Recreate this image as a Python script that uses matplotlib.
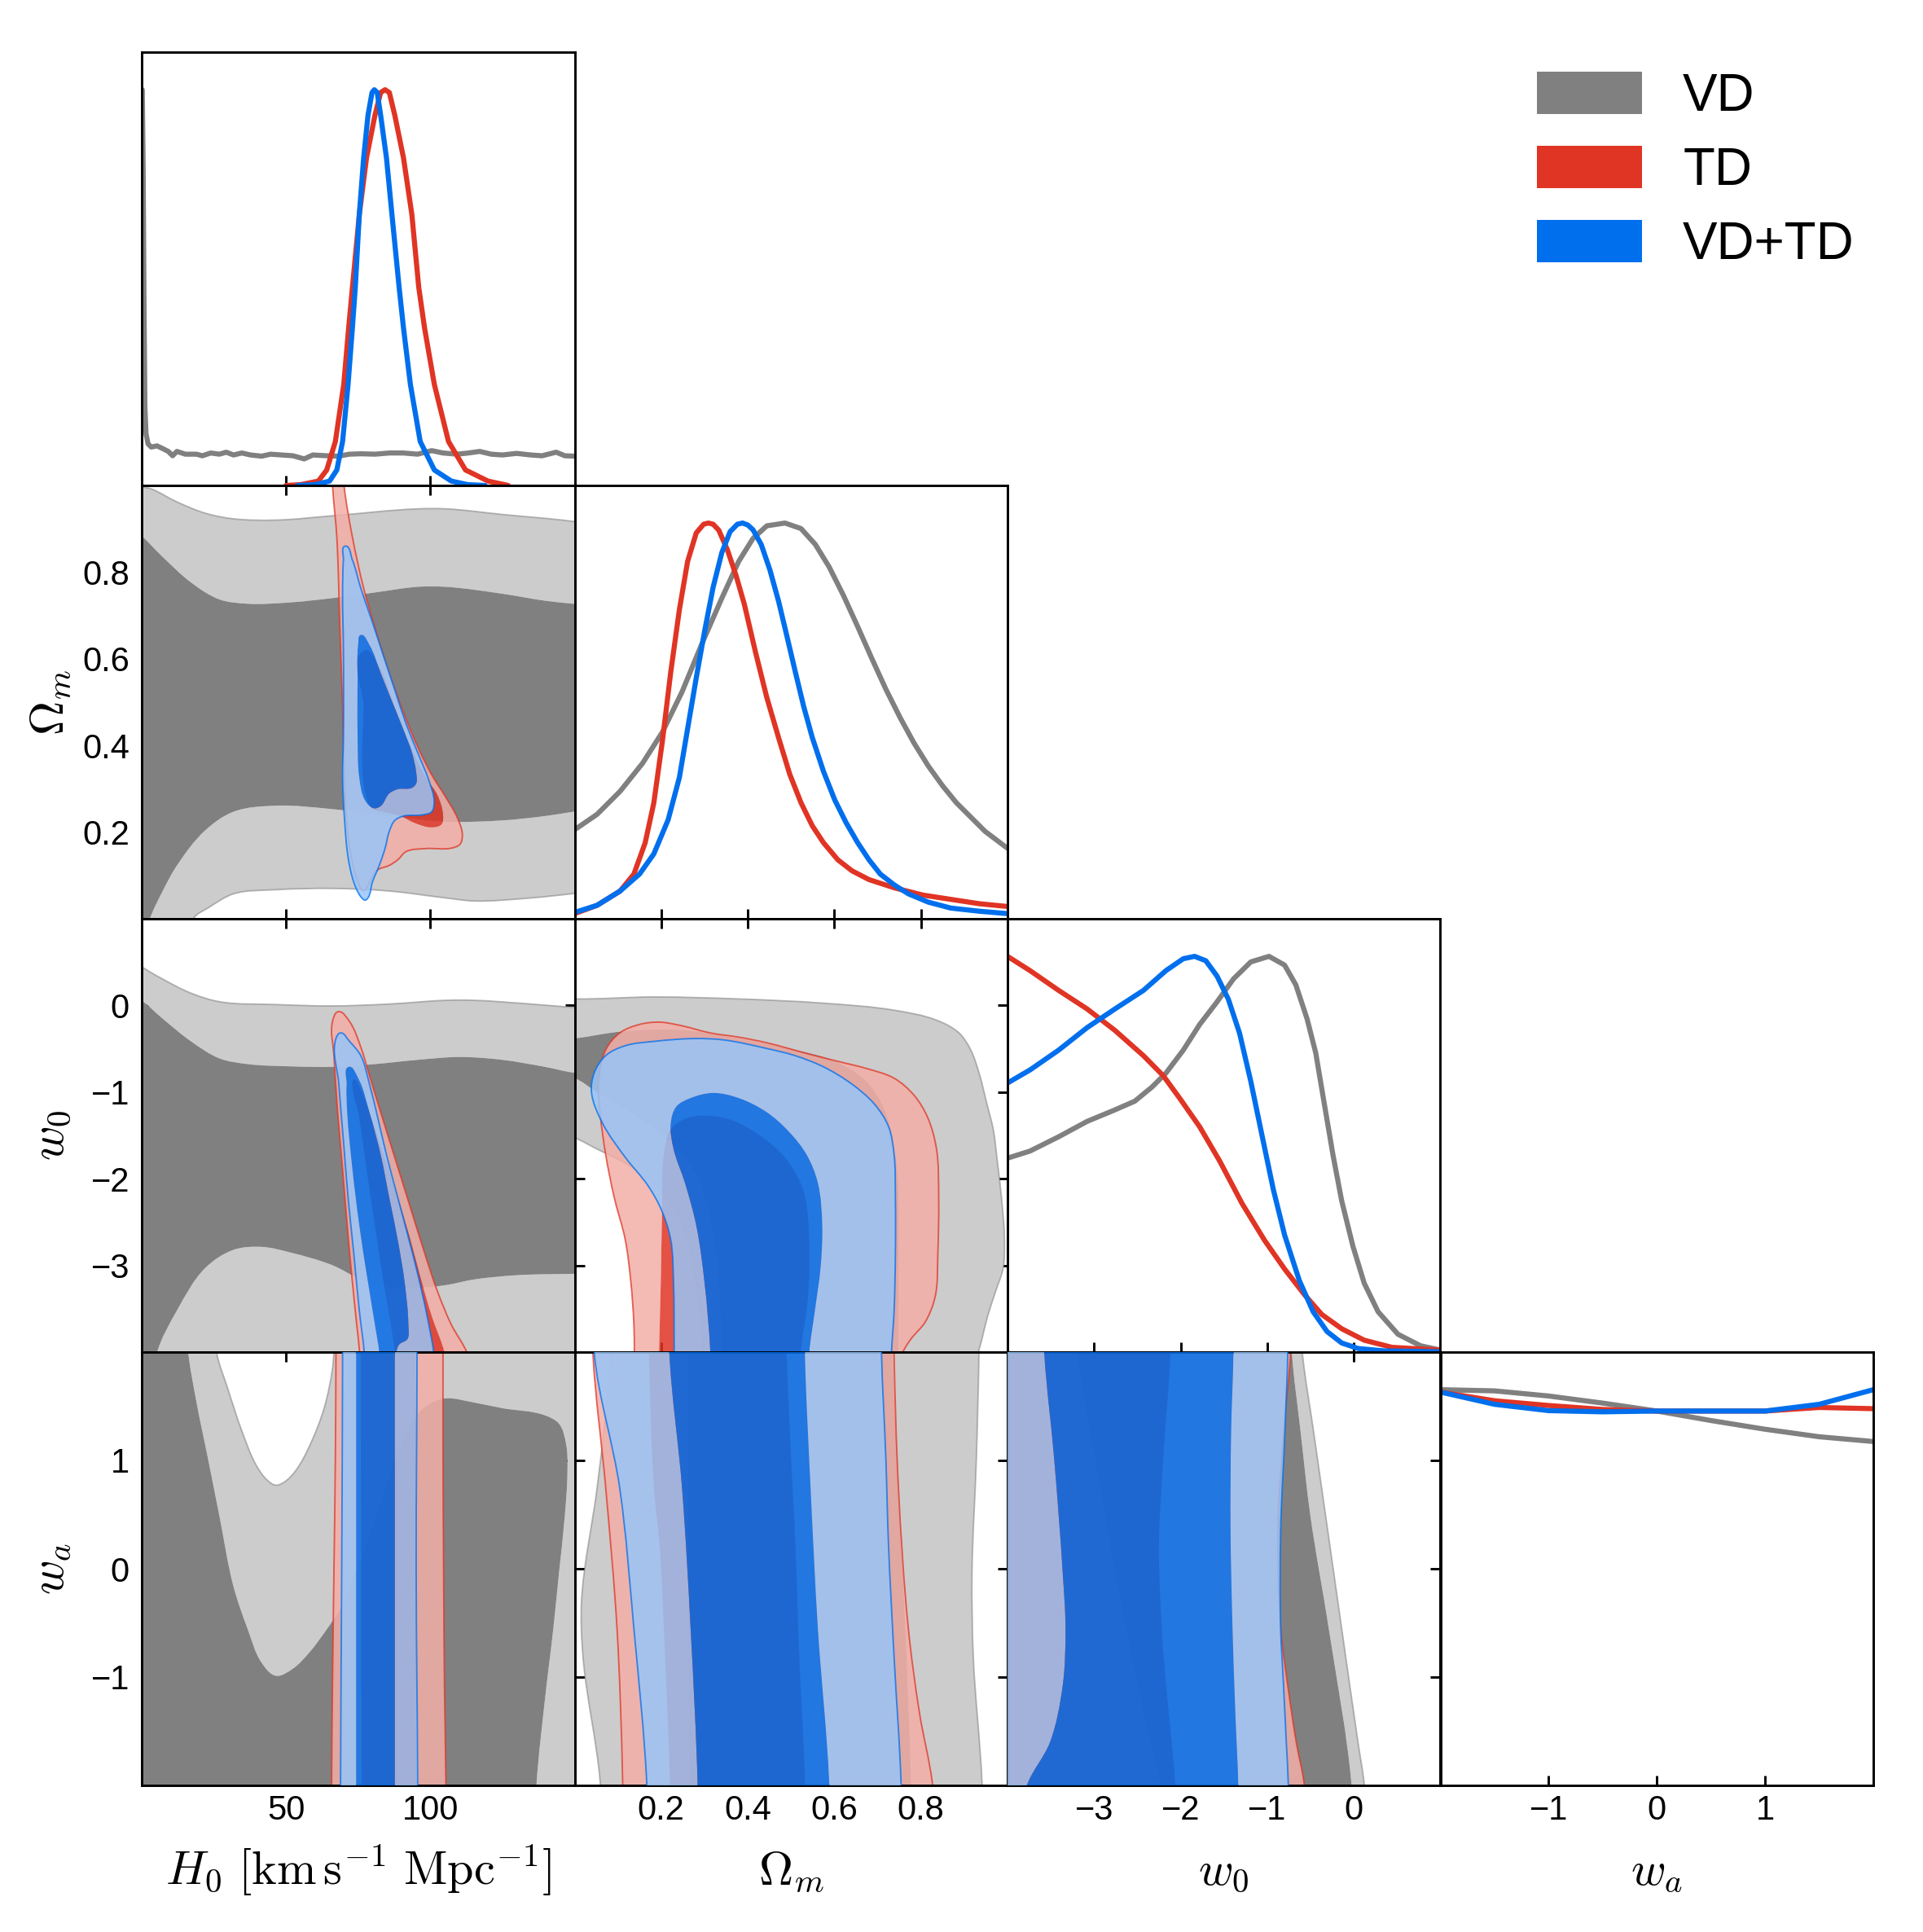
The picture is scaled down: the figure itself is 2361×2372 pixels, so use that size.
import numpy as np
import matplotlib
matplotlib.use("Agg")
import matplotlib.pyplot as plt
from matplotlib.path import Path
from matplotlib.patches import PathPatch, Patch
from matplotlib.colors import to_rgb

plt.rcParams['font.family'] = ['Liberation Sans', 'DejaVu Sans']
plt.rcParams['mathtext.fontset'] = 'cm'

# ------------------------------------------------------------------ data
PARAMS = ['H0', 'Om', 'w0', 'wa']
LIMITS = {'H0': (0, 150), 'Om': (0, 1), 'w0': (-4, 1), 'wa': (-2, 2)}
TICKS = {'H0': [50, 100], 'Om': [0.2, 0.4, 0.6, 0.8],
         'w0': [-3, -2, -1, 0], 'wa': [-1, 0, 1]}
TICK_LABELS = {'H0': ['50', '100'], 'Om': ['0.2', '0.4', '0.6', '0.8'],
               'w0': ['\u22123', '\u22122', '\u22121', '0'],
               'wa': ['\u22121', '0', '1']}
AXIS_LABELS = {'H0': r'$H_0\ [\mathrm{km}\,\mathrm{s}^{-1}\ \mathrm{Mpc}^{-1}]$',
               'Om': r'$\Omega_m$', 'w0': r'$w_0$', 'wa': r'$w_a$'}
SERIES = ['VD', 'TD', 'VD+TD']
COLORS = ['#808080', '#E03424', '#006FED']

# 1D marginals (normalised to peak 1)
H0_VD_X = [0.2, 0.5, 0.8, 1.1, 1.5, 2.2, 3.3, 5.3, 7.3, 9.2, 10.7, 12.2, 15.1, 19.0, 21.0, 23.9,
           26.9, 29.3, 31.8, 34.7, 37.7, 41.6, 44.6, 48.5, 52.4, 56.3, 59.3, 64.2, 68.1, 72.0,
           75.9, 80.9, 85.8, 90.7, 95.6, 100.5, 104.4, 109.3, 113.2, 117.1, 121.1, 125.0,
           129.9, 134.8, 138.7, 143.6, 146.6, 150.0]
H0_VD_Y = [1.00, 0.80, 0.45, 0.20, 0.13, 0.105, 0.097, 0.100, 0.093, 0.086, 0.075, 0.086, 0.079,
           0.079, 0.075, 0.082, 0.079, 0.084, 0.077, 0.082, 0.077, 0.074, 0.079, 0.077, 0.075,
           0.067, 0.077, 0.075, 0.074, 0.079, 0.080, 0.079, 0.082, 0.082, 0.079, 0.088, 0.082,
           0.079, 0.082, 0.086, 0.079, 0.077, 0.081, 0.077, 0.075, 0.084, 0.075, 0.074]
H0_TD_X = [50, 55, 61.2, 64.1, 67.1, 70.0, 71.7, 73.0, 75.4, 77.9, 80.8, 82.8, 84.3, 85.8, 87.7,
           90.7, 93.6, 96.0, 98.0, 101.4, 106.3, 112.2, 120, 127]
H0_TD_Y = [0, 0.002, 0.011, 0.039, 0.111, 0.255, 0.398, 0.5, 0.685, 0.828, 0.935, 0.993, 1.0,
           0.993, 0.935, 0.828, 0.685, 0.5, 0.398, 0.255, 0.111, 0.039, 0.011, 0.0]
H0_BOTH_X = [54, 60, 65.1, 67.6, 69.6, 71.5, 73.0, 74.0, 75.4, 76.9, 78.4, 79.8, 80.6, 81.6, 82.8,
             84.8, 86.7, 89.2, 90.7, 93.1, 96.5, 101.4, 107.3, 113, 119]
H0_BOTH_Y = [0, 0.002, 0.011, 0.039, 0.111, 0.255, 0.398, 0.5, 0.685, 0.828, 0.935, 0.993, 1.0,
             0.993, 0.935, 0.828, 0.685, 0.5, 0.398, 0.255, 0.111, 0.039, 0.011, 0.002, 0]

OM_VD_X = [0.0, 0.052, 0.105, 0.157, 0.203, 0.248, 0.294, 0.340, 0.379, 0.412, 0.444, 0.486,
           0.523, 0.556, 0.588, 0.621, 0.654, 0.686, 0.719, 0.752, 0.784, 0.817, 0.850, 0.882,
           0.915, 0.948, 1.0]
OM_VD_Y = [0.225, 0.264, 0.322, 0.393, 0.472, 0.573, 0.695, 0.810, 0.903, 0.961, 0.993, 1.0,
           0.986, 0.946, 0.889, 0.817, 0.738, 0.659, 0.580, 0.508, 0.444, 0.386, 0.336, 0.293,
           0.257, 0.221, 0.178]
OM_TD_X = [0.0, 0.052, 0.105, 0.137, 0.163, 0.183, 0.203, 0.222, 0.242, 0.261, 0.281, 0.298,
           0.309, 0.320, 0.333, 0.353, 0.373, 0.392, 0.418, 0.444, 0.471, 0.497, 0.523, 0.549,
           0.575, 0.608, 0.641, 0.680, 0.739, 0.804, 0.869, 0.935, 1.0]
OM_TD_Y = [0.013, 0.034, 0.070, 0.113, 0.192, 0.293, 0.451, 0.623, 0.781, 0.903, 0.975, 0.997,
           1.0, 0.997, 0.982, 0.932, 0.867, 0.795, 0.673, 0.559, 0.458, 0.365, 0.293, 0.235,
           0.192, 0.149, 0.121, 0.099, 0.078, 0.060, 0.049, 0.038, 0.031]
OM_BOTH_X = [0.0, 0.052, 0.105, 0.150, 0.183, 0.216, 0.242, 0.261, 0.281, 0.301, 0.320, 0.340,
             0.359, 0.376, 0.388, 0.400, 0.412, 0.431, 0.451, 0.471, 0.490, 0.510, 0.529, 0.549,
             0.575, 0.601, 0.627, 0.654, 0.680, 0.706, 0.739, 0.771, 0.817, 0.869, 0.935, 1.0]
OM_BOTH_Y = [0.016, 0.034, 0.070, 0.113, 0.164, 0.250, 0.357, 0.480, 0.609, 0.731, 0.838, 0.925,
             0.978, 0.997, 1.0, 0.995, 0.983, 0.946, 0.882, 0.803, 0.716, 0.623, 0.537, 0.458,
             0.372, 0.300, 0.243, 0.192, 0.149, 0.113, 0.085, 0.063, 0.042, 0.027, 0.019, 0.013]

W0_VD_X = [-4.0, -3.74, -3.41, -3.08, -2.76, -2.53, -2.33, -2.17, -1.97, -1.78, -1.58, -1.39,
           -1.19, -0.98, -0.80, -0.67, -0.54, -0.44, -0.34, -0.24, -0.14, -0.01, 0.12, 0.28,
           0.51, 0.77, 1.0]
W0_VD_Y = [0.490, 0.508, 0.544, 0.583, 0.612, 0.634, 0.670, 0.705, 0.763, 0.828, 0.885, 0.943,
           0.986, 1.0, 0.978, 0.928, 0.842, 0.756, 0.626, 0.497, 0.382, 0.267, 0.174, 0.102,
           0.045, 0.016, 0.005]
W0_TD_X = [-4.0, -3.74, -3.41, -3.08, -2.76, -2.43, -2.20, -2.01, -1.78, -1.55, -1.29, -1.03,
           -0.80, -0.57, -0.37, -0.14, 0.12, 0.44, 1.0]
W0_TD_Y = [1.0, 0.964, 0.914, 0.867, 0.813, 0.749, 0.698, 0.641, 0.569, 0.483, 0.375, 0.282,
           0.210, 0.145, 0.095, 0.059, 0.030, 0.012, 0.005]
W0_BOTH_X = [-4.0, -3.74, -3.41, -3.08, -2.76, -2.43, -2.17, -1.97, -1.84, -1.71, -1.58, -1.45,
             -1.32, -1.19, -1.06, -0.93, -0.80, -0.63, -0.47, -0.31, -0.14, 0.05, 0.35, 1.0]
W0_BOTH_Y = [0.680, 0.713, 0.763, 0.820, 0.867, 0.914, 0.964, 0.994, 1.0, 0.989, 0.950, 0.892,
             0.806, 0.684, 0.547, 0.411, 0.296, 0.181, 0.102, 0.052, 0.023, 0.009, 0.003, 0.001]

WA_X = [-2.0, -1.5, -1.0, -0.5, 0.0, 0.5, 1.0, 1.5, 2.0]
WA_VD_Y = [1.0, 0.997, 0.984, 0.966, 0.946, 0.922, 0.900, 0.881, 0.869]
WA_TD_Y = [0.994, 0.972, 0.960, 0.950, 0.946, 0.946, 0.946, 0.955, 0.952]
WA_BOTH_Y = [0.994, 0.963, 0.947, 0.944, 0.946, 0.946, 0.946, 0.963, 1.0]

# 2D credible-region boundaries (68% = 1S, 95% = 2S), data coordinates (x, y)
# --- (H0, Om)
VD_H0_OM_2S = [(-15, 1.10), (-0.09, 0.998), (3.35, 0.992), (12.2, 0.962), (22.0, 0.936),
               (31.8, 0.923), (46.5, 0.920), (66.1, 0.930), (95.6, 0.946), (105.4, 0.946),
               (125.0, 0.933), (149.5, 0.917), (165, 0.90), (165, 0.07), (149.5, 0.058),
               (134.8, 0.048), (115.2, 0.041), (105.4, 0.048), (85.8, 0.064), (66.1, 0.070),
               (46.5, 0.067), (31.8, 0.0575), (23.0, 0.025), (18.1, 0.002), (14.0, -0.15),
               (-15, -0.15)]
VD_H0_OM_1S = [(-12, 0.95), (-0.09, 0.884), (7.27, 0.835), (17.1, 0.776), (26.9, 0.737),
               (36.7, 0.727), (51.4, 0.730), (66.1, 0.740), (80.8, 0.753), (95.6, 0.766),
               (105.4, 0.766), (125.0, 0.750), (139.7, 0.734), (149.5, 0.727), (162, 0.72),
               (162, 0.26), (149.5, 0.247), (139.7, 0.237), (125.0, 0.227), (105.4, 0.224),
               (85.8, 0.237), (66.1, 0.253), (46.5, 0.261), (31.8, 0.247), (22.0, 0.204),
               (12.2, 0.123), (7.27, 0.064), (2.85, 0.0), (-1.0, -0.12), (-12, -0.12)]
TD_H0_OM_2S = [(65.6, 1.15), (66.13, 0.9995), (67.6, 0.881), (68.6, 0.685), (69.6, 0.489),
               (70.1, 0.358), (71.0, 0.227), (73.0, 0.129), (75.0, 0.084), (76.9, 0.065),
               (77.9, 0.071), (79.9, 0.097), (81.8, 0.113), (85.75, 0.123), (88.7, 0.136),
               (91.6, 0.155), (98.5, 0.162), (107.3, 0.163), (110.3, 0.172), (111.1, 0.195),
               (109.3, 0.234), (105.4, 0.280), (100.5, 0.332), (95.6, 0.397), (90.7, 0.476),
               (85.75, 0.567), (80.8, 0.672), (76.9, 0.763), (73.0, 0.881), (70.1, 0.9995),
               (68.5, 1.15)]
TD_H0_OM_1S = [(77.4, 0.619), (81.8, 0.587), (87.7, 0.489), (93.6, 0.391), (98.5, 0.325),
               (102.4, 0.286), (104.4, 0.240), (103.9, 0.218), (100.5, 0.211), (94.6, 0.221),
               (89.7, 0.237), (83.8, 0.247), (79.9, 0.254), (77.4, 0.293), (76.9, 0.489)]
BOTH_H0_OM_2S = [(70.5, 0.860), (73.0, 0.828), (75.9, 0.763), (79.9, 0.685), (83.8, 0.606),
                 (87.7, 0.528), (91.6, 0.450), (95.6, 0.384), (99.5, 0.319), (101.3, 0.273),
                 (100.5, 0.247), (97.5, 0.240), (90.7, 0.237), (87.7, 0.227), (85.75, 0.201),
                 (84.3, 0.162), (82.3, 0.123), (79.9, 0.084), (78.4, 0.048), (77.4, 0.043),
                 (75.9, 0.051), (73.5, 0.084), (71.5, 0.142), (70.3, 0.227), (69.6, 0.325),
                 (69.9, 0.423), (69.9, 0.619), (69.6, 0.750), (69.9, 0.828)]
BOTH_H0_OM_1S = [(75.9, 0.655), (78.9, 0.632), (82.8, 0.567), (86.7, 0.502), (90.7, 0.436),
                 (93.6, 0.384), (95.1, 0.338), (95.1, 0.312), (93.6, 0.302), (88.7, 0.299),
                 (85.75, 0.289), (82.8, 0.260), (80.4, 0.255), (77.4, 0.273), (75.4, 0.325),
                 (74.8, 0.423), (74.8, 0.554), (75.0, 0.632)]
# --- (H0, w0)
VD_H0_W0_2S = [(-15, 0.9), (-0.09, 0.451), (7.27, 0.304), (17.1, 0.141), (26.9, 0.043),
               (46.5, 0.010), (66.1, -0.006), (85.8, 0.016), (105.4, 0.059), (115.2, 0.059),
               (134.8, 0.016), (149.5, -0.023), (165, -0.06), (165, -5.5), (-15, -5.5)]
VD_H0_W0_1S = [(-12, 0.3), (-0.09, 0.059), (7.27, -0.153), (17.1, -0.415), (26.9, -0.611),
               (36.7, -0.677), (51.4, -0.703), (66.1, -0.709), (80.8, -0.677), (95.6, -0.628),
               (110.3, -0.595), (125.0, -0.628), (139.7, -0.709), (149.5, -0.775),
               (162, -0.80), (162, -3.09), (149.5, -3.097), (129.9, -3.113), (115.2, -3.162),
               (105.4, -3.227), (95.6, -3.26), (85.8, -3.26), (75.9, -3.162), (66.1, -2.998),
               (51.4, -2.85), (41.6, -2.786), (31.8, -2.82), (22.0, -3.03), (12.2, -3.52),
               (5.3, -4.005), (1.0, -5.2), (-12, -5.2)]
TD_H0_W0_2S = [(68.1, -0.072), (72.0, -0.186), (75.9, -0.48), (78.9, -0.807), (82.8, -1.233),
               (87.7, -1.756), (92.6, -2.279), (97.5, -2.802), (102.4, -3.293), (107.3, -3.685),
               (112.7, -4.006), (125, -5.5), (77, -5.5), (75.5, -4.006), (74.5, -3.685),
               (73.0, -3.195), (71.2, -2.54), (69.6, -1.887), (67.9, -1.233), (66.6, -0.579),
               (66.1, -0.186)]
TD_H0_W0_1S = [(73.5, -0.856), (75.9, -0.971), (78.9, -1.233), (83.8, -1.723), (88.7, -2.214),
               (93.1, -2.704), (96.5, -3.13), (100.5, -3.587), (104.9, -4.006), (110, -5.2),
               (91, -5.2), (87.7, -4.006), (83.8, -3.195), (80.8, -2.54), (77.9, -1.887),
               (75.0, -1.233), (73.2, -0.971)]
BOTH_H0_W0_2S = [(68.9, -0.317), (72.0, -0.415), (75.9, -0.579), (78.9, -0.906), (81.8, -1.298),
                 (84.8, -1.723), (88.7, -2.214), (92.6, -2.704), (95.6, -3.096), (98.5, -3.522),
                 (101.2, -4.006), (106, -5.5), (79, -5.5), (77.1, -4.006), (75.4, -3.522),
                 (73.5, -2.868), (71.5, -2.214), (69.9, -1.56), (68.3, -0.906), (67.3, -0.382)]
BOTH_H0_W0_1S = [(71.7, -0.709), (75.0, -0.84), (78.9, -1.233), (82.8, -1.723), (85.75, -2.214),
                 (88.7, -2.704), (91.1, -3.195), (92.4, -3.685), (92.1, -3.849), (89.2, -3.914),
                 (88.2, -4.006), (88.0, -5.2), (84.0, -5.2), (82.3, -4.006), (80.8, -3.685),
                 (78.4, -3.195), (75.4, -2.54), (73.0, -1.887), (71.2, -1.233), (71.0, -0.906)]
# --- (Om, w0)
VD_OM_W0_2S = [(-0.15, 0.12), (0.0, 0.075), (0.183, 0.098), (0.379, 0.075), (0.575, 0.026),
               (0.738, -0.055), (0.836, -0.170), (0.888, -0.317), (0.915, -0.513),
               (0.934, -0.775), (0.954, -1.167), (0.967, -1.429), (0.977, -1.821),
               (0.986, -2.214), (0.993, -2.704), (0.990, -3.031), (0.973, -3.293),
               (0.954, -3.587), (0.941, -3.849), (0.933, -4.006), (0.91, -5.5), (0.31, -5.5),
               (0.297, -4.006), (0.294, -3.685), (0.281, -3.195), (0.261, -2.704),
               (0.235, -2.377), (0.183, -2.05), (0.117, -1.821), (0.052, -1.658),
               (0.0, -1.527), (-0.15, -1.30)]
VD_OM_W0_1S = [(-0.12, -0.45), (0.0, -0.382), (0.111, -0.30), (0.248, -0.284), (0.379, -0.382),
               (0.509, -0.513), (0.601, -0.644), (0.673, -0.873), (0.718, -1.233),
               (0.745, -1.887), (0.748, -2.54), (0.748, -4.006), (0.75, -5.2), (0.345, -5.2),
               (0.340, -4.006), (0.327, -2.868), (0.301, -2.214), (0.261, -1.789),
               (0.202, -1.494), (0.117, -1.20), (0.052, -1.004), (0.0, -0.84), (-0.12, -0.75)]
TD_OM_W0_2S = [(0.0554, -0.906), (0.0718, -0.513), (0.1044, -0.317), (0.150, -0.219),
               (0.196, -0.193), (0.248, -0.235), (0.313, -0.317), (0.379, -0.366),
               (0.444, -0.431), (0.542, -0.562), (0.607, -0.644), (0.673, -0.726),
               (0.738, -0.840), (0.784, -1.036), (0.816, -1.298), (0.836, -1.658),
               (0.841, -2.214), (0.839, -2.868), (0.833, -3.358), (0.810, -3.652),
               (0.777, -3.849), (0.758, -4.006), (0.70, -5.5), (0.14, -5.5), (0.138, -4.006),
               (0.137, -3.685), (0.130, -3.195), (0.117, -2.704), (0.0914, -2.214),
               (0.0718, -1.723), (0.0587, -1.233)]
TD_OM_W0_1S = [(0.195, -4.006), (0.199, -3.195), (0.202, -2.377), (0.206, -1.723),
               (0.222, -1.429), (0.261, -1.298), (0.300, -1.272), (0.366, -1.331),
               (0.444, -1.56), (0.496, -1.821), (0.529, -2.148), (0.542, -2.704),
               (0.539, -3.358), (0.522, -4.006), (0.51, -5.2), (0.19, -5.2)]
BOTH_OM_W0_2S = [(0.039, -1.004), (0.0456, -0.775), (0.0718, -0.579), (0.1175, -0.464),
                 (0.183, -0.415), (0.281, -0.382), (0.346, -0.399), (0.444, -0.497),
                 (0.509, -0.579), (0.575, -0.709), (0.640, -0.906), (0.692, -1.135),
                 (0.725, -1.396), (0.738, -1.723), (0.741, -2.214), (0.741, -2.868),
                 (0.738, -3.522), (0.732, -4.006), (0.725, -5.5), (0.231, -5.5),
                 (0.230, -4.006), (0.2285, -3.195), (0.222, -2.704), (0.202, -2.377),
                 (0.170, -2.083), (0.1175, -1.756), (0.065, -1.364)]
BOTH_OM_W0_1S = [(0.222, -1.363), (0.235, -1.167), (0.268, -1.069), (0.320, -1.010),
                 (0.379, -1.069), (0.444, -1.233), (0.496, -1.462), (0.536, -1.723),
                 (0.562, -2.05), (0.572, -2.54), (0.568, -3.031), (0.555, -3.522),
                 (0.542, -4.006), (0.535, -5.2), (0.318, -5.2), (0.3135, -4.006),
                 (0.300, -3.195), (0.281, -2.54), (0.255, -2.05), (0.2286, -1.658)]
# --- (H0, wa)
VD_H0_WA_2S = [(-15, -3.0), (165, -3.0), (165, 3.0), (-15, 3.0)]
VD_H0_WA_2S_HOLE = [(25.0, 2.8), (25.9, 2.004), (29.8, 1.664), (34.7, 1.272), (39.6, 0.959),
                    (43.6, 0.815), (46.5, 0.771), (49.5, 0.802), (53.4, 0.907), (58.3, 1.142),
                    (63.2, 1.482), (66.1, 1.847), (66.6, 2.004), (67.5, 2.8)]
VD_H0_WA_1S = [(-12, 2.8), (15.0, 2.8), (16.1, 2.004), (19.0, 1.534), (23.0, 1.011),
               (26.9, 0.489), (31.8, -0.165), (36.7, -0.556), (41.6, -0.870), (46.5, -0.988),
               (52.4, -0.922), (58.3, -0.766), (64.2, -0.556), (68.1, -0.400), (72.0, -0.165),
               (77.9, 0.227), (83.8, 0.698), (89.7, 1.142), (95.6, 1.429), (100.5, 1.534),
               (105.4, 1.573), (115.2, 1.534), (125.0, 1.482), (139.7, 1.416), (144.6, 1.338),
               (147.1, 1.142), (147.5, 0.881), (146.6, 0.489), (144.6, -0.034),
               (142.6, -0.556), (139.7, -1.21), (136.8, -1.989), (136.0, -2.8), (-12, -2.8)]
TD_H0_WA_2S = [(67.4, 2.8), (67.3, 2.004), (67.1, 1.011), (66.6, -0.034), (66.1, -1.079),
               (65.8, -1.989), (65.7, -2.8), (105.5, -2.8), (105.4, -1.989), (104.9, -1.079),
               (104.6, -0.034), (104.4, 1.011), (104.4, 2.004), (104.4, 2.8)]
TD_H0_WA_1S = [(75.9, 2.6), (75.9, 2.004), (76.0, 0.0), (76.2, -1.989), (76.2, -2.6),
               (95.0, -2.6), (95.1, -1.989), (95.0, 0.0), (95.0, 2.004), (95.0, 2.6)]
BOTH_H0_WA_2S = [(69.6, 2.8), (69.6, 2.004), (69.3, 0.0), (68.9, -1.989), (68.9, -2.8),
                 (95.6, -2.8), (95.6, -1.989), (95.1, 0.0), (95.4, 2.004), (95.4, 2.8)]
BOTH_H0_WA_1S = [(74.3, 2.6), (74.3, 2.004), (74.3, 0.0), (74.3, -1.989), (74.3, -2.6),
                 (87.7, -2.6), (87.7, -1.989), (87.7, 0.0), (87.7, 2.004), (87.7, 2.6)]
# --- (Om, wa)
VD_OM_WA_2S = [(0.09, 2.8), (0.085, 1.978), (0.052, 0.75), (0.016, -0.295), (0.0195, -0.818),
               (0.059, -1.967), (0.065, -2.8), (0.945, -2.8), (0.941, -1.967), (0.921, -0.818),
               (0.918, -0.034), (0.928, 1.011), (0.934, 1.978), (0.936, 2.8)]
VD_OM_WA_1S = [(0.26, 2.6), (0.261, 1.978), (0.263, 0.0), (0.265, -1.967), (0.266, -2.6),
               (0.78, -2.6), (0.777, -1.967), (0.764, -0.56), (0.748, 0.75), (0.735, 1.978),
               (0.733, 2.6)]
TD_OM_WA_2S = [(0.040, 2.8), (0.0424, 1.978), (0.0718, 0.75), (0.098, -0.556), (0.111, -1.967),
               (0.113, -2.8), (0.84, -2.8), (0.826, -1.967), (0.797, -1.34), (0.771, -0.556),
               (0.748, 0.75), (0.738, 1.978), (0.736, 2.8)]
TD_OM_WA_1S = [(0.170, 2.6), (0.172, 1.978), (0.183, 0.75), (0.196, 0.227), (0.209, -0.818),
               (0.220, -1.967), (0.222, -2.6), (0.534, -2.6), (0.532, -1.967), (0.519, -0.818),
               (0.510, 0.227), (0.500, 1.011), (0.490, 1.978), (0.488, 2.6)]
BOTH_OM_WA_2S = [(0.044, 2.8), (0.0456, 1.978), (0.104, 0.75), (0.137, -0.556),
                 (0.1665, -1.967), (0.17, -2.8), (0.757, -2.8), (0.754, -1.967),
                 (0.738, -0.818), (0.725, 0.227), (0.719, 1.011), (0.709, 1.978), (0.707, 2.8)]
BOTH_OM_WA_1S = [(0.218, 2.6), (0.219, 1.978), (0.248, 0.75), (0.268, -0.556), (0.284, -1.967),
                 (0.286, -2.6), (0.59, -2.6), (0.588, -1.967), (0.562, -0.556), (0.545, 0.75),
                 (0.532, 1.978), (0.531, 2.6)]
# --- (w0, wa)
VD_W0_WA_2S = [(-5.0, 2.8), (-0.66, 2.8), (-0.593, 1.978), (-0.466, 1.272), (-0.279, 0.227),
               (-0.093, -0.818), (0.048, -1.602), (0.120, -1.989), (0.17, -2.8), (-5.0, -2.8)]
VD_W0_WA_1S = [(-3.25, 2.6), (-3.199, 1.978), (-2.987, 1.011), (-2.758, -0.034),
               (-2.496, -1.079), (-2.235, -1.989), (-2.1, -2.6), (0.0, -2.6), (-0.027, -1.989),
               (-0.289, -0.556), (-0.502, 0.489), (-0.616, 1.272), (-0.714, 1.978),
               (-0.74, 2.6)]
TD_W0_WA_2S = [(-5.0, 2.8), (-0.72, 2.8), (-0.730, 2.004), (-0.812, 1.272), (-0.878, 0.358),
               (-0.845, -0.556), (-0.763, -1.079), (-0.665, -1.602), (-0.573, -1.989),
               (-0.52, -2.8), (-5.0, -2.8)]
TD_W0_WA_1S = [(-4.8, 2.6), (-2.11, 2.6), (-2.12, 1.978), (-2.202, 1.011), (-2.251, 0.227),
               (-2.218, -0.556), (-2.169, -1.079), (-2.104, -1.602), (-2.064, -1.989),
               (-2.05, -2.6), (-4.8, -2.6)]
BOTH_W0_WA_2S = [(-5.0, 2.8), (-0.76, 2.8), (-0.763, 2.004), (-0.796, 1.272), (-0.845, 0.358),
                 (-0.845, -0.556), (-0.812, -1.079), (-0.780, -1.602), (-0.757, -1.989),
                 (-0.75, -2.8), (-5.0, -2.8)]
BOTH_W0_WA_1S = [(-3.6, 2.6), (-3.575, 1.978), (-3.461, 1.011), (-3.363, -0.034),
                 (-3.330, -0.556), (-3.363, -1.079), (-3.510, -1.602), (-3.772, -1.989),
                 (-3.95, -2.6), (-1.33, -2.6), (-1.335, -1.989), (-1.368, -1.34),
                 (-1.401, -0.556), (-1.424, 0.358), (-1.417, 1.272), (-1.391, 1.978),
                 (-1.39, 2.6)]

MARGINALS = {
    'H0': [(H0_VD_X, H0_VD_Y), (H0_TD_X, H0_TD_Y), (H0_BOTH_X, H0_BOTH_Y)],
    'Om': [(OM_VD_X, OM_VD_Y), (OM_TD_X, OM_TD_Y), (OM_BOTH_X, OM_BOTH_Y)],
    'w0': [(W0_VD_X, W0_VD_Y), (W0_TD_X, W0_TD_Y), (W0_BOTH_X, W0_BOTH_Y)],
    'wa': [(WA_X, WA_VD_Y), (WA_X, WA_TD_Y), (WA_X, WA_BOTH_Y)],
}
# per panel, per series: (95% outer polygons, 95% holes, 68% polygons)
CONTOURS = {
    ('H0', 'Om'): [([VD_H0_OM_2S], [], [VD_H0_OM_1S]),
                   ([TD_H0_OM_2S], [], [TD_H0_OM_1S]),
                   ([BOTH_H0_OM_2S], [], [BOTH_H0_OM_1S])],
    ('H0', 'w0'): [([VD_H0_W0_2S], [], [VD_H0_W0_1S]),
                   ([TD_H0_W0_2S], [], [TD_H0_W0_1S]),
                   ([BOTH_H0_W0_2S], [], [BOTH_H0_W0_1S])],
    ('Om', 'w0'): [([VD_OM_W0_2S], [], [VD_OM_W0_1S]),
                   ([TD_OM_W0_2S], [], [TD_OM_W0_1S]),
                   ([BOTH_OM_W0_2S], [], [BOTH_OM_W0_1S])],
    ('H0', 'wa'): [([VD_H0_WA_2S], [VD_H0_WA_2S_HOLE], [VD_H0_WA_1S]),
                   ([TD_H0_WA_2S], [], [TD_H0_WA_1S]),
                   ([BOTH_H0_WA_2S], [], [BOTH_H0_WA_1S])],
    ('Om', 'wa'): [([VD_OM_WA_2S], [], [VD_OM_WA_1S]),
                   ([TD_OM_WA_2S], [], [TD_OM_WA_1S]),
                   ([BOTH_OM_WA_2S], [], [BOTH_OM_WA_1S])],
    ('w0', 'wa'): [([VD_W0_WA_2S], [], [VD_W0_WA_1S]),
                   ([TD_W0_WA_2S], [], [TD_W0_WA_1S]),
                   ([BOTH_W0_WA_2S], [], [BOTH_W0_WA_1S])],
}

# ------------------------------------------------------------------ helpers
FILL_ALPHA = [1.0, 0.85, 0.85]
PALE = 0.6


def oriented(poly, ccw):
    p = np.asarray(poly, float)
    x, y = p[:, 0], p[:, 1]
    area = 0.5 * np.sum(x * np.roll(y, -1) - np.roll(x, -1) * y)
    if (area > 0) != ccw:
        p = p[::-1]
    return p


def smooth_path(polys, sx, sy):
    """closed smooth outlines (cubic Bezier through the given vertices, tangents from
    neighbouring unit directions in axis-normalised space)"""
    scale = np.array([sx, sy], float)
    verts, codes = [], []
    for poly, ccw in polys:
        Q = oriented(poly, ccw) / scale
        n = len(Q)
        d = np.roll(Q, -1, axis=0) - Q
        L = np.hypot(d[:, 0], d[:, 1])
        u = d / L[:, None]
        t = u + np.roll(u, 1, axis=0)
        tn = np.hypot(t[:, 0], t[:, 1])
        tn[tn < 1e-9] = 1.0
        t = t / tn[:, None]
        verts.append(Q[0]); codes.append(Path.MOVETO)
        for i in range(n):
            j = (i + 1) % n
            verts += [Q[i] + t[i] * L[i] / 3.0, Q[j] - t[j] * L[i] / 3.0, Q[j]]
            codes += [Path.CURVE4] * 3
        verts.append(Q[0]); codes.append(Path.CLOSEPOLY)
    return Path(np.array(verts) * scale, codes)


def style_axes(ax, diag=False):
    for s in ax.spines.values():
        s.set_linewidth(0.7)
    ax.set_axisbelow(True)
    ax.tick_params(direction='in', length=2.9, width=0.7, labelsize=10,
                   top=not diag, right=not diag, left=not diag)
    ax.tick_params(axis='x', pad=2.6)
    ax.tick_params(axis='y', pad=3.6)


# ------------------------------------------------------------------ figure
FW, FH = 2361, 2372
L0, T0, W, H = 174, 64, 531.5, 532
fig = plt.figure(figsize=(FW / 300, FH / 300), dpi=300)


def add_ax(r, c):
    return fig.add_axes([(L0 + W * c) / FW, (FH - T0 - H * (r + 1)) / FH, W / FW, H / FH])


LABEL_FS = 14
n = len(PARAMS)
for r in range(n):
    for c in range(r + 1):
        ax = add_ax(r, c)
        px = PARAMS[c]
        xr = LIMITS[px][1] - LIMITS[px][0]
        if r == c:
            style_axes(ax, diag=True)
            for (xs, ys), col in zip(MARGINALS[px], COLORS):
                ax.plot(xs, ys, color=col, lw=1.5, solid_capstyle='round')
            ax.set_ylim(0, 1.095)
            ax.set_yticks([])
        else:
            py = PARAMS[r]
            yr = LIMITS[py][1] - LIMITS[py][0]
            style_axes(ax)
            for k, (outers, holes, inners) in enumerate(CONTOURS[(px, py)]):
                base = np.array(to_rgb(COLORS[k]))
                light = base * (1 - PALE) + PALE
                a = FILL_ALPHA[k]
                ring = smooth_path([(p, True) for p in outers] + [(p, False) for p in holes]
                                   + [(p, False) for p in inners], xr, yr)
                ax.add_patch(PathPatch(ring, facecolor=(*light, a), edgecolor='none',
                                       zorder=1 + k))
                ax.add_patch(PathPatch(smooth_path([(p, True) for p in inners], xr, yr),
                                       facecolor=(*base, a), edgecolor='none', zorder=1 + k))
                edge = smooth_path([(p, True) for p in outers] + [(p, False) for p in holes],
                                   xr, yr)
                ax.add_patch(PathPatch(edge, facecolor='none',
                                       edgecolor=(*base, 0.75 if k else 0.55), lw=0.45,
                                       zorder=1 + k))
            ax.set_ylim(*LIMITS[py])
            ax.set_yticks(TICKS[py])
            if c == 0:
                ax.set_yticklabels(TICK_LABELS[py])
                ax.set_ylabel(AXIS_LABELS[py], fontsize=LABEL_FS, va='baseline')
                ax.yaxis.set_label_coords(-0.180, 0.5)
            else:
                ax.set_yticklabels([])
        ax.set_xlim(*LIMITS[px])
        ax.set_xticks(TICKS[px])
        if r == n - 1:
            ax.set_xticklabels(TICK_LABELS[px])
            ax.set_xlabel(AXIS_LABELS[px], fontsize=LABEL_FS, va='baseline')
            ax.xaxis.set_label_coords(0.5, -0.230)
        else:
            ax.set_xticklabels([])

handles = [Patch(facecolor=col, edgecolor='none') for col in COLORS]
fig.legend(handles, SERIES, loc='upper left', bbox_to_anchor=(1887 / FW, 1 - 88 / FH),
           frameon=False, fontsize=15.3, handlelength=2.03, handleheight=0.88,
           handletextpad=0.78, labelspacing=0.47, borderpad=0, borderaxespad=0)

fig.savefig('out.png', dpi=300)
